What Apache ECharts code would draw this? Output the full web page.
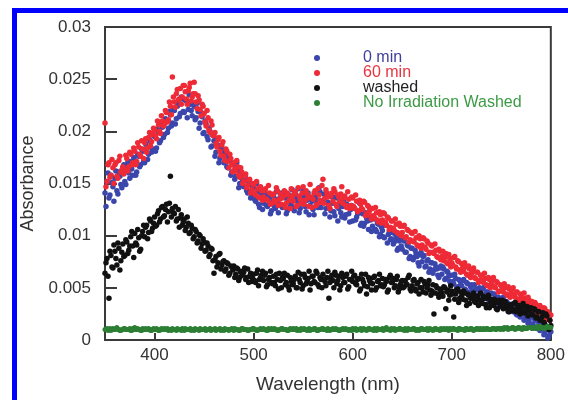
<!DOCTYPE html>
<html>
<head>
<meta charset="utf-8">
<script src="https://cdn.jsdelivr.net/npm/echarts@6/dist/echarts.min.js"></script>
<style>
html,body{margin:0;padding:0;background:#fff;}
#chart{width:568px;height:400px;}
</style>
</head>
<body>
<div id="chart"></div>
<script>
const seriesNames = ['0 min', '60 min', 'washed', 'No Irradiation Washed'];
const xTickLabels = [400, 500, 600, 700, 800];
const yTickLabels = [0, 0.005, 0.01, 0.015, 0.02, 0.025, 0.03];

// even-nm samples
const wavelengthEven = [
350,352,354,356,358,360,362,364,366,368,370,372,374,376,378,380,382,384,386,388,390,392,394,396,398,
400,402,404,406,408,410,412,414,416,418,420,422,424,426,428,430,432,434,436,438,440,442,444,446,448,
450,452,454,456,458,460,462,464,466,468,470,472,474,476,478,480,482,484,486,488,490,492,494,496,498,
500,502,504,506,508,510,512,514,516,518,520,522,524,526,528,530,532,534,536,538,540,542,544,546,548,
550,552,554,556,558,560,562,564,566,568,570,572,574,576,578,580,582,584,586,588,590,592,594,596,598,
600,602,604,606,608,610,612,614,616,618,620,622,624,626,628,630,632,634,636,638,640,642,644,646,648,
650,652,654,656,658,660,662,664,666,668,670,672,674,676,678,680,682,684,686,688,690,692,694,696,698,
700,702,704,706,708,710,712,714,716,718,720,722,724,726,728,730,732,734,736,738,740,742,744,746,748,
750,752,754,756,758,760,762,764,766,768,770,772,774,776,778,780,782,784,786,788,790,792,794,796,798,
800];
// odd-nm samples
const wavelengthOdd = [
351,353,355,357,359,361,363,365,367,369,371,373,375,377,379,381,383,385,387,389,391,393,395,397,399,
401,403,405,407,409,411,413,415,417,419,421,423,425,427,429,431,433,435,437,439,441,443,445,447,449,
451,453,455,457,459,461,463,465,467,469,471,473,475,477,479,481,483,485,487,489,491,493,495,497,499,
501,503,505,507,509,511,513,515,517,519,521,523,525,527,529,531,533,535,537,539,541,543,545,547,549,
551,553,555,557,559,561,563,565,567,569,571,573,575,577,579,581,583,585,587,589,591,593,595,597,599,
601,603,605,607,609,611,613,615,617,619,621,623,625,627,629,631,633,635,637,639,641,643,645,647,649,
651,653,655,657,659,661,663,665,667,669,671,673,675,677,679,681,683,685,687,689,691,693,695,697,699,
701,703,705,707,709,711,713,715,717,719,721,723,725,727,729,731,733,735,737,739,741,743,745,747,749,
751,753,755,757,759,761,763,765,767,769,771,773,775,777,779,781,783,785,787,789,791,793,795,797,799];

const abs0minEven = [
0.0141,0.0152,0.0136,0.0158,0.0147,0.0155,0.0143,0.0161,0.0149,0.0165,
0.0152,0.0167,0.0160,0.0171,0.0158,0.0172,0.0161,0.0176,0.0168,0.0181,
0.0170,0.0184,0.0178,0.0190,0.0183,0.0195,0.0184,0.0199,0.0191,0.0204,
0.0197,0.0210,0.0203,0.0216,0.0208,0.0220,0.0212,0.0227,0.0217,0.0231,
0.0218,0.0229,0.0221,0.0226,0.0215,0.0224,0.0213,0.0219,0.0208,0.0214,
0.0199,0.0207,0.0192,0.0200,0.0186,0.0191,0.0180,0.0187,0.0174,0.0183,
0.0170,0.0178,0.0165,0.0172,0.0161,0.0168,0.0157,0.0163,0.0150,0.0158,
0.0147,0.0155,0.0141,0.0150,0.0139,0.0146,0.0133,0.0142,0.0127,0.0139,
0.0131,0.0140,0.0128,0.0136,0.0124,0.0138,0.0126,0.0135,0.0130,0.0141,
0.0129,0.0136,0.0124,0.0139,0.0131,0.0127,0.0140,0.0133,0.0122,0.0137,
0.0143,0.0128,0.0134,0.0120,0.0136,0.0125,0.0138,0.0131,0.0146,0.0127,
0.0134,0.0121,0.0139,0.0129,0.0124,0.0131,0.0119,0.0136,0.0126,0.0122,
0.0128,0.0117,0.0130,0.0121,0.0125,0.0114,0.0126,0.0118,0.0123,0.0110,
0.0121,0.0112,0.0117,0.0106,0.0115,0.0109,0.0116,0.0104,0.0111,0.0101,
0.0105,0.0098,0.0110,0.0101,0.0096,0.0103,0.0094,0.0097,0.0088,0.0099,
0.0087,0.0095,0.0084,0.0090,0.0080,0.0088,0.0079,0.0083,0.0074,0.0082,
0.0075,0.0081,0.0071,0.0077,0.0068,0.0074,0.0067,0.0070,0.0062,0.0069,
0.0063,0.0068,0.0059,0.0065,0.0056,0.0062,0.0054,0.0059,0.0051,0.0057,
0.0052,0.0058,0.0048,0.0054,0.0046,0.0053,0.0045,0.0049,0.0042,0.0050,
0.0044,0.0050,0.0040,0.0046,0.0037,0.0045,0.0038,0.0041,0.0034,0.0040,
0.0035,0.0041,0.0031,0.0036,0.0028,0.0034,0.0027,0.0031,0.0024,0.0029,
0.0025,0.0030,0.0021,0.0026,0.0018,0.0022,0.0015,0.0019,0.0011,0.0017,
0.0010,0.0016,0.0007,0.0012,0.0004,0.0008];
const abs0minOdd = [
0.0128,0.0160,0.0139,0.0151,0.0133,0.0162,0.0140,0.0157,0.0146,0.0168,
0.0149,0.0170,0.0155,0.0164,0.0175,0.0158,0.0178,0.0166,0.0183,0.0171,
0.0188,0.0173,0.0192,0.0180,0.0196,0.0181,0.0202,0.0189,0.0207,0.0194,
0.0212,0.0199,0.0219,0.0205,0.0222,0.0207,0.0224,0.0214,0.0233,0.0219,
0.0230,0.0213,0.0235,0.0220,0.0226,0.0211,0.0227,0.0203,0.0218,0.0198,
0.0210,0.0195,0.0203,0.0185,0.0196,0.0176,0.0193,0.0170,0.0185,0.0178,
0.0181,0.0166,0.0175,0.0158,0.0169,0.0154,0.0170,0.0146,0.0161,0.0153,
0.0158,0.0143,0.0151,0.0136,0.0147,0.0135,0.0150,0.0130,0.0144,0.0125,
0.0143,0.0129,0.0138,0.0121,0.0132,0.0128,0.0142,0.0122,0.0136,0.0127,
0.0141,0.0121,0.0135,0.0128,0.0144,0.0124,0.0136,0.0145,0.0126,0.0131,
0.0138,0.0123,0.0141,0.0129,0.0133,0.0120,0.0135,0.0127,0.0142,0.0133,
0.0140,0.0126,0.0132,0.0118,0.0137,0.0123,0.0137,0.0114,0.0130,0.0118,
0.0133,0.0120,0.0127,0.0113,0.0129,0.0127,0.0115,0.0121,0.0131,0.0112,
0.0109,0.0122,0.0114,0.0118,0.0104,0.0117,0.0106,0.0112,0.0099,0.0108,
0.0099,0.0110,0.0093,0.0104,0.0097,0.0092,0.0101,0.0086,0.0095,0.0090,
0.0096,0.0084,0.0091,0.0078,0.0088,0.0077,0.0086,0.0080,0.0071,0.0084,
0.0080,0.0070,0.0076,0.0065,0.0074,0.0064,0.0073,0.0068,0.0060,0.0071,
0.0070,0.0058,0.0066,0.0061,0.0053,0.0056,0.0063,0.0050,0.0058,0.0053,
0.0057,0.0049,0.0055,0.0044,0.0051,0.0047,0.0053,0.0043,0.0048,0.0039,
0.0049,0.0041,0.0046,0.0035,0.0044,0.0038,0.0044,0.0033,0.0041,0.0035,
0.0039,0.0033,0.0037,0.0027,0.0034,0.0029,0.0035,0.0025,0.0032,0.0022,
0.0028,0.0019,0.0024,0.0016,0.0022,0.0014,0.0021,0.0012,0.0018,0.0009,
0.0014,0.0005,0.0011,0.0002,0.0009];

const abs60minEven = [
0.0208,0.0152,0.0170,0.0158,0.0165,0.0168,0.0157,0.0172,0.0161,0.0166,
0.0163,0.0174,0.0166,0.0178,0.0170,0.0181,0.0171,0.0185,0.0176,0.0183,
0.0189,0.0180,0.0194,0.0186,0.0197,0.0201,0.0193,0.0206,0.0198,0.0210,
0.0207,0.0218,0.0211,0.0224,0.0252,0.0228,0.0236,0.0230,0.0241,0.0233,
0.0244,0.0231,0.0239,0.0246,0.0233,0.0247,0.0228,0.0234,0.0221,0.0226,
0.0217,0.0205,0.0213,0.0199,0.0206,0.0196,0.0188,0.0192,0.0181,0.0187,
0.0176,0.0183,0.0171,0.0178,0.0168,0.0170,0.0162,0.0166,0.0156,0.0161,
0.0152,0.0159,0.0148,0.0154,0.0144,0.0149,0.0139,0.0145,0.0136,0.0143,
0.0137,0.0145,0.0134,0.0141,0.0131,0.0140,0.0132,0.0143,0.0135,0.0130,
0.0138,0.0127,0.0141,0.0134,0.0145,0.0133,0.0142,0.0129,0.0138,0.0131,
0.0147,0.0134,0.0140,0.0128,0.0137,0.0135,0.0143,0.0130,0.0139,0.0132,
0.0154,0.0136,0.0141,0.0129,0.0138,0.0133,0.0142,0.0128,0.0137,0.0140,
0.0131,0.0138,0.0127,0.0135,0.0129,0.0136,0.0126,0.0133,0.0124,0.0130,
0.0125,0.0132,0.0121,0.0128,0.0119,0.0126,0.0117,0.0122,0.0113,0.0120,
0.0115,0.0121,0.0110,0.0117,0.0108,0.0114,0.0105,0.0111,0.0102,0.0109,
0.0103,0.0110,0.0099,0.0105,0.0096,0.0102,0.0094,0.0098,0.0090,0.0097,
0.0091,0.0097,0.0087,0.0093,0.0084,0.0090,0.0083,0.0086,0.0079,0.0085,
0.0080,0.0076,0.0083,0.0073,0.0078,0.0074,0.0079,0.0070,0.0076,0.0067,
0.0073,0.0066,0.0070,0.0062,0.0068,0.0064,0.0069,0.0059,0.0065,0.0057,
0.0062,0.0055,0.0059,0.0052,0.0058,0.0054,0.0060,0.0050,0.0055,0.0047,
0.0052,0.0046,0.0050,0.0043,0.0049,0.0045,0.0050,0.0041,0.0046,0.0038,
0.0043,0.0037,0.0040,0.0033,0.0038,0.0034,0.0029,0.0036,0.0026,0.0031,
0.0027,0.0023,0.0030,0.0020,0.0025,0.0024];
const abs60minOdd = [
0.0147,0.0168,0.0156,0.0173,0.0150,0.0170,0.0155,0.0176,0.0163,0.0159,
0.0177,0.0162,0.0180,0.0168,0.0184,0.0168,0.0189,0.0178,0.0191,0.0174,
0.0193,0.0184,0.0199,0.0190,0.0203,0.0196,0.0210,0.0200,0.0215,0.0205,
0.0220,0.0209,0.0228,0.0216,0.0233,0.0223,0.0240,0.0231,0.0226,0.0244,
0.0238,0.0226,0.0242,0.0229,0.0236,0.0236,0.0222,0.0230,0.0215,0.0224,
0.0209,0.0220,0.0201,0.0210,0.0196,0.0199,0.0185,0.0194,0.0177,0.0190,
0.0172,0.0181,0.0165,0.0174,0.0161,0.0164,0.0172,0.0158,0.0165,0.0150,
0.0157,0.0146,0.0153,0.0141,0.0150,0.0141,0.0152,0.0137,0.0147,0.0134,
0.0143,0.0135,0.0148,0.0130,0.0139,0.0134,0.0146,0.0129,0.0140,0.0136,
0.0143,0.0131,0.0139,0.0126,0.0137,0.0140,0.0128,0.0146,0.0135,0.0141,
0.0130,0.0143,0.0136,0.0149,0.0127,0.0141,0.0129,0.0145,0.0134,0.0148,
0.0131,0.0144,0.0137,0.0126,0.0141,0.0145,0.0130,0.0139,0.0133,0.0147,
0.0136,0.0129,0.0142,0.0126,0.0137,0.0128,0.0139,0.0123,0.0134,0.0126,
0.0133,0.0119,0.0129,0.0124,0.0116,0.0119,0.0127,0.0115,0.0123,0.0112,
0.0122,0.0113,0.0118,0.0106,0.0114,0.0107,0.0116,0.0103,0.0112,0.0100,
0.0109,0.0098,0.0106,0.0094,0.0103,0.0095,0.0104,0.0091,0.0100,0.0088,
0.0098,0.0089,0.0095,0.0083,0.0091,0.0084,0.0092,0.0080,0.0087,0.0077,
0.0085,0.0079,0.0074,0.0082,0.0070,0.0072,0.0080,0.0068,0.0075,0.0065,
0.0069,0.0074,0.0063,0.0071,0.0060,0.0067,0.0060,0.0065,0.0055,0.0062,
0.0057,0.0064,0.0053,0.0060,0.0050,0.0058,0.0051,0.0056,0.0046,0.0053,
0.0048,0.0054,0.0044,0.0051,0.0041,0.0049,0.0043,0.0046,0.0039,0.0044,
0.0040,0.0045,0.0035,0.0041,0.0032,0.0037,0.0031,0.0034,0.0027,0.0033,
0.0025,0.0031,0.0022,0.0027,0.0019];

const absWashedEven = [
0.0064,0.0078,0.0040,0.0081,0.0069,0.0085,0.0072,0.0088,0.0076,0.0092,
0.0081,0.0094,0.0086,0.0099,0.0090,0.0102,0.0091,0.0098,0.0087,0.0104,
0.0099,0.0110,0.0103,0.0114,0.0107,0.0118,0.0110,0.0124,0.0116,0.0128,
0.0119,0.0130,0.0123,0.0157,0.0126,0.0121,0.0114,0.0125,0.0117,0.0110,
0.0116,0.0108,0.0112,0.0103,0.0107,0.0099,0.0104,0.0095,0.0100,0.0092,
0.0094,0.0086,0.0090,0.0082,0.0087,0.0064,0.0080,0.0074,0.0083,0.0072,
0.0076,0.0068,0.0073,0.0064,0.0070,0.0071,0.0063,0.0068,0.0060,0.0066,
0.0065,0.0058,0.0068,0.0061,0.0056,0.0063,0.0055,0.0067,0.0058,0.0062,
0.0057,0.0064,0.0053,0.0060,0.0055,0.0061,0.0052,0.0058,0.0064,0.0050,
0.0059,0.0053,0.0062,0.0048,0.0056,0.0054,0.0061,0.0050,0.0058,0.0063,
0.0052,0.0060,0.0056,0.0066,0.0054,0.0061,0.0055,0.0064,0.0051,0.0058,
0.0063,0.0056,0.0060,0.0040,0.0059,0.0057,0.0065,0.0054,0.0061,0.0052,
0.0060,0.0055,0.0063,0.0051,0.0058,0.0056,0.0062,0.0053,0.0059,0.0049,
0.0058,0.0052,0.0044,0.0060,0.0055,0.0054,0.0061,0.0050,0.0057,0.0052,
0.0059,0.0053,0.0056,0.0048,0.0062,0.0055,0.0050,0.0058,0.0046,0.0053,
0.0057,0.0051,0.0054,0.0060,0.0049,0.0052,0.0058,0.0047,0.0055,0.0050,
0.0050,0.0056,0.0045,0.0053,0.0048,0.0047,0.0025,0.0052,0.0044,0.0049,
0.0045,0.0051,0.0030,0.0048,0.0043,0.0047,0.0022,0.0044,0.0049,0.0040,
0.0042,0.0047,0.0038,0.0044,0.0035,0.0040,0.0045,0.0036,0.0042,0.0038,
0.0037,0.0042,0.0034,0.0040,0.0031,0.0039,0.0033,0.0036,0.0029,0.0038,
0.0035,0.0030,0.0037,0.0032,0.0027,0.0034,0.0028,0.0036,0.0030,0.0033,
0.0029,0.0035,0.0026,0.0032,0.0028,0.0031,0.0024,0.0029,0.0022,0.0027,
0.0020,0.0026,0.0015,0.0023,0.0010,0.0014];
const absWashedOdd = [
0.0074,0.0061,0.0085,0.0070,0.0091,0.0078,0.0093,0.0067,0.0084,0.0080,
0.0096,0.0083,0.0090,0.0104,0.0079,0.0093,0.0106,0.0085,0.0100,0.0110,
0.0108,0.0097,0.0116,0.0104,0.0112,0.0109,0.0121,0.0113,0.0127,0.0118,
0.0125,0.0113,0.0131,0.0118,0.0122,0.0128,0.0116,0.0108,0.0120,0.0113,
0.0105,0.0118,0.0102,0.0110,0.0097,0.0106,0.0093,0.0101,0.0088,0.0097,
0.0085,0.0093,0.0080,0.0088,0.0076,0.0077,0.0070,0.0082,0.0068,0.0075,
0.0066,0.0074,0.0062,0.0071,0.0067,0.0060,0.0069,0.0057,0.0065,0.0062,
0.0069,0.0060,0.0055,0.0064,0.0059,0.0057,0.0064,0.0052,0.0060,0.0066,
0.0062,0.0051,0.0058,0.0066,0.0054,0.0055,0.0063,0.0049,0.0057,0.0060,
0.0064,0.0055,0.0051,0.0060,0.0053,0.0058,0.0050,0.0065,0.0055,0.0049,
0.0063,0.0054,0.0059,0.0048,0.0061,0.0056,0.0066,0.0053,0.0060,0.0050,
0.0058,0.0052,0.0066,0.0055,0.0062,0.0050,0.0062,0.0057,0.0048,0.0064,
0.0055,0.0061,0.0049,0.0058,0.0066,0.0061,0.0054,0.0058,0.0047,0.0063,
0.0055,0.0063,0.0051,0.0057,0.0048,0.0060,0.0048,0.0056,0.0063,0.0053,
0.0051,0.0058,0.0046,0.0060,0.0055,0.0059,0.0052,0.0061,0.0049,0.0056,
0.0050,0.0057,0.0053,0.0062,0.0047,0.0057,0.0049,0.0054,0.0044,0.0058,
0.0046,0.0054,0.0050,0.0057,0.0043,0.0053,0.0045,0.0050,0.0041,0.0048,
0.0042,0.0050,0.0046,0.0038,0.0052,0.0044,0.0039,0.0048,0.0036,0.0046,
0.0039,0.0045,0.0033,0.0043,0.0040,0.0043,0.0037,0.0041,0.0033,0.0045,
0.0035,0.0040,0.0031,0.0043,0.0036,0.0034,0.0039,0.0030,0.0036,0.0032,
0.0038,0.0031,0.0035,0.0028,0.0033,0.0030,0.0035,0.0027,0.0033,0.0025,
0.0033,0.0026,0.0031,0.0023,0.0030,0.0025,0.0030,0.0021,0.0027,0.0019,
0.0022,0.0017,0.0025,0.0012,0.0019];

const absNoIrrWashedEven = [
0.0010,0.0011,0.0010,0.0009,0.0011,0.0010,0.0012,0.0010,0.0009,0.0010,0.0011,0.0010,0.0010,0.0009,0.0011,0.0012,0.0010,0.0010,0.0009,0.0011,0.0010,0.0010,0.0011,0.0009,0.0010,
0.0010,0.0011,0.0009,0.0010,0.0010,0.0011,0.0010,0.0009,0.0010,0.0011,0.0010,0.0009,0.0010,0.0010,0.0011,0.0009,0.0010,0.0010,0.0011,0.0010,0.0009,0.0010,0.0010,0.0011,0.0010,
0.0010,0.0009,0.0010,0.0011,0.0010,0.0010,0.0009,0.0010,0.0011,0.0010,0.0009,0.0010,0.0010,0.0010,0.0011,0.0009,0.0010,0.0010,0.0009,0.0011,0.0010,0.0010,0.0009,0.0010,0.0010,
0.0011,0.0010,0.0009,0.0010,0.0010,0.0011,0.0010,0.0009,0.0010,0.0011,0.0010,0.0010,0.0009,0.0010,0.0011,0.0010,0.0010,0.0009,0.0010,0.0010,0.0011,0.0010,0.0009,0.0010,0.0011,
0.0010,0.0010,0.0009,0.0011,0.0010,0.0010,0.0011,0.0009,0.0010,0.0010,0.0011,0.0010,0.0009,0.0010,0.0010,0.0011,0.0010,0.0010,0.0009,0.0010,0.0011,0.0010,0.0010,0.0009,0.0010,
0.0011,0.0010,0.0009,0.0010,0.0011,0.0010,0.0010,0.0009,0.0011,0.0010,0.0010,0.0011,0.0009,0.0010,0.0010,0.0011,0.0010,0.0012,0.0010,0.0009,0.0010,0.0011,0.0010,0.0010,0.0011,
0.0010,0.0009,0.0010,0.0011,0.0010,0.0010,0.0011,0.0009,0.0010,0.0010,0.0011,0.0010,0.0010,0.0009,0.0011,0.0010,0.0010,0.0011,0.0010,0.0009,0.0010,0.0011,0.0010,0.0010,0.0011,
0.0010,0.0011,0.0010,0.0009,0.0011,0.0010,0.0010,0.0011,0.0010,0.0010,0.0011,0.0009,0.0010,0.0011,0.0010,0.0010,0.0011,0.0010,0.0011,0.0010,0.0010,0.0011,0.0010,0.0011,0.0011,
0.0011,0.0010,0.0011,0.0012,0.0011,0.0011,0.0012,0.0010,0.0011,0.0012,0.0011,0.0012,0.0011,0.0011,0.0012,0.0012,0.0011,0.0012,0.0013,0.0011,0.0012,0.0012,0.0011,0.0013,0.0012,
0.0012];
const absNoIrrWashedOdd = [
0.0010,0.0009,0.0011,0.0010,0.0010,0.0011,0.0010,0.0009,0.0010,0.0011,0.0010,0.0010,0.0011,0.0009,0.0010,0.0010,0.0011,0.0010,0.0009,0.0010,0.0011,0.0010,0.0010,0.0009,0.0011,
0.0010,0.0010,0.0009,0.0011,0.0010,0.0010,0.0011,0.0010,0.0009,0.0010,0.0010,0.0011,0.0010,0.0009,0.0010,0.0011,0.0010,0.0010,0.0009,0.0010,0.0011,0.0010,0.0009,0.0010,0.0010,
0.0011,0.0010,0.0010,0.0009,0.0010,0.0011,0.0010,0.0010,0.0009,0.0010,0.0011,0.0010,0.0009,0.0010,0.0010,0.0011,0.0010,0.0009,0.0010,0.0011,0.0010,0.0010,0.0009,0.0010,0.0011,
0.0010,0.0009,0.0010,0.0011,0.0010,0.0010,0.0009,0.0011,0.0010,0.0010,0.0011,0.0010,0.0009,0.0010,0.0011,0.0010,0.0010,0.0009,0.0011,0.0010,0.0010,0.0011,0.0010,0.0009,0.0010,
0.0011,0.0010,0.0010,0.0009,0.0010,0.0011,0.0010,0.0009,0.0010,0.0011,0.0010,0.0010,0.0011,0.0009,0.0010,0.0010,0.0011,0.0010,0.0009,0.0010,0.0010,0.0011,0.0010,0.0010,0.0009,
0.0010,0.0011,0.0010,0.0010,0.0009,0.0011,0.0010,0.0010,0.0011,0.0010,0.0009,0.0010,0.0011,0.0010,0.0010,0.0009,0.0011,0.0010,0.0010,0.0011,0.0010,0.0009,0.0010,0.0011,0.0010,
0.0010,0.0011,0.0009,0.0010,0.0010,0.0011,0.0010,0.0010,0.0009,0.0011,0.0010,0.0010,0.0011,0.0010,0.0010,0.0009,0.0011,0.0010,0.0010,0.0011,0.0010,0.0010,0.0011,0.0009,0.0010,
0.0011,0.0010,0.0010,0.0011,0.0010,0.0010,0.0009,0.0011,0.0010,0.0011,0.0010,0.0010,0.0011,0.0010,0.0011,0.0010,0.0010,0.0011,0.0010,0.0010,0.0011,0.0011,0.0010,0.0011,0.0010,
0.0011,0.0012,0.0011,0.0010,0.0011,0.0012,0.0011,0.0011,0.0012,0.0011,0.0010,0.0012,0.0011,0.0012,0.0012,0.0011,0.0012,0.0011,0.0012,0.0013,0.0012,0.0011,0.0012,0.0013,0.0012];

const evenValues = [abs0minEven, abs60minEven, absWashedEven, absNoIrrWashedEven];
const oddValues = [abs0minOdd, abs60minOdd, absWashedOdd, absNoIrrWashedOdd];
const dotColors = ['#3a46ac', '#ee2a36', '#111111', '#2c7f34'];
const legendTextColors = ['#3e3e9c', '#e8343e', '#222222', '#3c9a44'];
const dotSizes = [5.5, 5.5, 5.5, 5];

const FONT = 'Liberation Sans, Arial, Helvetica, sans-serif';
const chart = echarts.init(document.getElementById('chart'), null, {renderer: 'canvas'});

const series = seriesNames.map((name, i) => ({
  name: name,
  type: 'scatter',
  data: wavelengthEven.map((w, k) => [w, evenValues[i][k]])
        .concat(wavelengthOdd.map((w, k) => [w, oddValues[i][k]])),
  symbol: 'circle',
  symbolSize: dotSizes[i],
  large: false,
  itemStyle: {color: dotColors[i], opacity: 1},
  emphasis: {disabled: true},
  silent: true,
  z: 2 + i
}));

chart.setOption({
  animation: false,
  backgroundColor: '#fff',
  graphic: [
    {type: 'rect', shape: {x: 12, y: 8, width: 5, height: 392}, style: {fill: '#0000ff'}, silent: true},
    {type: 'rect', shape: {x: 12, y: 8, width: 556, height: 5}, style: {fill: '#0000ff'}, silent: true}
  ],
  grid: {
    left: 105, right: 16, top: 27, bottom: 60,
    show: true, borderColor: '#3a3a3a', borderWidth: 2, backgroundColor: 'transparent',
    containLabel: false
  },
  legend: {
    orient: 'vertical',
    left: 309, top: 45,
    itemWidth: 6, itemHeight: 6, itemGap: -1,
    icon: 'circle',
    selectedMode: false,
    data: seriesNames.map((n, i) => ({name: n, textStyle: {color: legendTextColors[i]}})),
    textStyle: {fontFamily: FONT, fontSize: 16, lineHeight: 15, padding: [0, 0, 0, 38]}
  },
  xAxis: {
    type: 'value',
    min: 350, max: 800, interval: 50,
    name: 'Wavelength (nm)', nameLocation: 'middle', nameGap: 35,
    nameTextStyle: {fontFamily: FONT, fontSize: 19, color: '#333'},
    axisLine: {show: true, lineStyle: {color: '#3a3a3a', width: 2}},
    axisTick: {show: true, inside: true, length: 7, lineStyle: {color: '#3a3a3a', width: 2}, customValues: xTickLabels},
    axisLabel: {fontFamily: FONT, fontSize: 17, color: '#333', margin: 7, customValues: xTickLabels},
    splitLine: {show: false}
  },
  yAxis: {
    type: 'value',
    min: 0, max: 0.03, interval: 0.005,
    name: 'Absorbance', nameLocation: 'middle', nameGap: 68,
    nameTextStyle: {fontFamily: FONT, fontSize: 18, color: '#333'},
    axisLine: {show: true, lineStyle: {color: '#3a3a3a', width: 2}},
    axisTick: {show: true, inside: true, length: 12, lineStyle: {color: '#3a3a3a', width: 2}},
    axisLabel: {fontFamily: FONT, fontSize: 17, color: '#333', margin: 14,
      customValues: yTickLabels,
      formatter: v => String(+(+v).toFixed(3))},
    splitLine: {show: false}
  },
  series: series
});
</script>
</body>
</html>
